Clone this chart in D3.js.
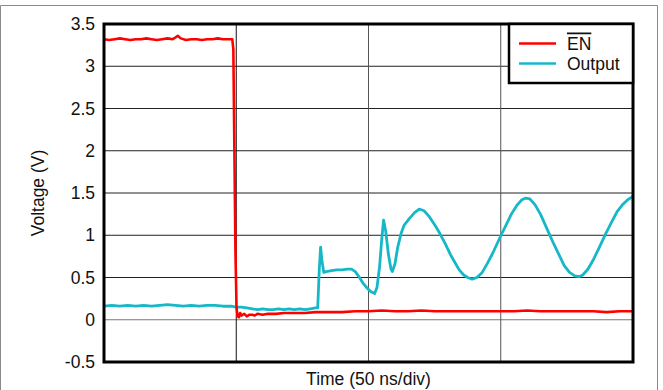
<!DOCTYPE html>
<html><head><meta charset="utf-8">
<script src="https://cdn.jsdelivr.net/npm/d3@7"></script>
<style>body{margin:0;background:#fff}svg{display:block;font-family:"Liberation Sans",Arial,sans-serif}</style>
</head><body><svg id="c" width="663" height="390"></svg>
<script>
// Time in ns (50 ns/div, 4 divisions)
const xTicks = [0, 50, 100, 150, 200];
const yTicks = [-0.5, 0, 0.5, 1, 1.5, 2, 2.5, 3, 3.5];
const seriesNames = ["EN", "Output"];

const enTime = [0,2,4,6,8,10,12,14,16,18,20,22,24,26,27,27.9,29,31,33,35,37,39,41,43,45,47,48.5,48.9,49.3,49.7,50.1,50.5,51,51.5,52,53,54,55,56,57,58,60,62,65,68,72,76,80,85,90,95,100,105,110,115,120,125,130,135,140,145,150,155,160,165,170,175,180,185,190,195,200];
const enVolt = [3.32,3.31,3.32,3.33,3.32,3.31,3.32,3.32,3.33,3.32,3.31,3.32,3.33,3.32,3.34,3.36,3.33,3.31,3.32,3.32,3.31,3.32,3.32,3.33,3.32,3.32,3.32,3.2,2.0,0.8,0.15,0.04,0.03,0.08,0.05,0.07,0.04,0.06,0.06,0.05,0.07,0.06,0.07,0.07,0.08,0.08,0.08,0.09,0.09,0.09,0.1,0.1,0.11,0.1,0.1,0.11,0.1,0.1,0.1,0.1,0.1,0.1,0.1,0.11,0.1,0.1,0.1,0.1,0.1,0.09,0.1,0.1];

const outTime = [0,3,6,9,12,15,18,21,24,27,30,33,36,39,42,45,48,50,52,54,56,58,60,62,64,66,68,70,72,74,76,78,80,80.8,81.4,81.9,82.4,83.1,84,86,88,90,92,93.6,95,96.6,98,99.6,101,102.3,103.2,104.2,105,105.7,106.5,107.5,108.5,109,110,111,112.3,113.5,115.5,117.5,119.2,121,123,125.5,127,129,131,133,134.3,136,137.5,139.2,141,143,145,147,150.1,152,154,156,158,159.5,161,163,165,168.3,170,172,174,176,178,179.6,181,183,185,187,189.7,192,194,196,198,200];
const outVolt = [0.16,0.17,0.16,0.17,0.16,0.17,0.16,0.17,0.18,0.17,0.16,0.17,0.16,0.17,0.17,0.16,0.16,0.15,0.15,0.14,0.13,0.12,0.13,0.12,0.12,0.13,0.12,0.13,0.12,0.13,0.12,0.13,0.14,0.14,0.6,0.86,0.7,0.56,0.57,0.58,0.59,0.59,0.6,0.6,0.57,0.5,0.43,0.37,0.33,0.31,0.38,0.63,0.95,1.18,1.05,0.78,0.6,0.57,0.66,0.85,1.02,1.12,1.2,1.27,1.31,1.29,1.22,1.1,1.02,0.9,0.77,0.66,0.59,0.53,0.5,0.48,0.5,0.56,0.67,0.79,1.0,1.12,1.25,1.35,1.42,1.44,1.43,1.36,1.25,1.02,0.9,0.77,0.64,0.56,0.52,0.51,0.53,0.6,0.71,0.84,1.02,1.16,1.28,1.36,1.42,1.46];

const svg = d3.select("#c");
const L = 104, R = 633, T = 24, B = 362;
const x = d3.scaleLinear().domain([0, 200]).range([L, R]);
const y = d3.scaleLinear().domain([-0.5, 3.5]).range([B, T]);

// outer frame
svg.append("path").attr("d", `M0.5,390 V5.5 H657.5 V390`).attr("fill", "none").attr("stroke", "#8a8a8a").attr("stroke-width", 1);

// gridlines
svg.append("g").selectAll("line").data(yTicks.slice(1, -1)).join("line")
  .attr("x1", L).attr("x2", R).attr("y1", d => y(d)).attr("y2", d => y(d))
  .attr("stroke", d => d === 0 ? "#777" : "#222").attr("stroke-width", 1);
svg.append("g").selectAll("line").data(xTicks.slice(1, -1)).join("line")
  .attr("y1", T).attr("y2", B).attr("x1", d => x(d)).attr("x2", d => x(d))
  .attr("stroke", (d, i) => i === 0 ? "#111" : "#555").attr("stroke-width", 1);

// y axis labels via d3 axis
const yAxis = d3.axisLeft(y).tickValues(yTicks).tickSize(0).tickPadding(9).tickFormat(d => String(d));
const ga = svg.append("g").attr("transform", `translate(${L},0)`).call(yAxis);
ga.select(".domain").remove();
ga.selectAll("text").attr("font-size", 17.5).attr("fill", "#111").attr("font-family", "Liberation Sans, Arial, sans-serif");

// lines
const line = d3.line().x(d => x(d[0])).y(d => y(d[1]));
const enData = enTime.map((t, i) => [t, enVolt[i]]);
const outData = outTime.map((t, i) => [t, outVolt[i]]);
svg.append("path").datum(outData).attr("d", line).attr("fill", "none").attr("stroke", "#16b8c8").attr("stroke-width", 2.8).attr("stroke-linejoin", "round");
svg.append("path").datum(enData).attr("d", line).attr("fill", "none").attr("stroke", "#ff0000").attr("stroke-width", 2.6).attr("stroke-linejoin", "round");

// plot border
svg.append("rect").attr("x", L).attr("y", T).attr("width", R - L).attr("height", B - T)
  .attr("fill", "none").attr("stroke", "#000").attr("stroke-width", 3);

// legend
const lg = svg.append("g");
lg.append("rect").attr("x", 509).attr("y", 24).attr("width", 124).attr("height", 59)
  .attr("fill", "#fff").attr("stroke", "#000").attr("stroke-width", 2.5);
const colors = ["#ff0000", "#16b8c8"];
seriesNames.forEach((n, i) => {
  const yy = 43.5 + i * 20;
  lg.append("line").attr("x1", 519).attr("x2", 556).attr("y1", yy).attr("y2", yy).attr("stroke", colors[i]).attr("stroke-width", 2.6);
  const t = lg.append("text").attr("x", 567).attr("y", yy + 6).attr("font-size", 17.5).attr("fill", "#111").text(n);
  if (i === 0) t.attr("text-decoration", "overline");
});

// axis titles
svg.append("text").attr("x", x(100)).attr("y", 385).attr("text-anchor", "middle").attr("font-size", 17.5).attr("fill", "#111").text("Time (50 ns/div)");
svg.append("text").attr("transform", `translate(44,${(T + B) / 2}) rotate(-90)`).attr("text-anchor", "middle").attr("font-size", 17.5).attr("fill", "#111").text("Voltage (V)");
</script></body></html>
